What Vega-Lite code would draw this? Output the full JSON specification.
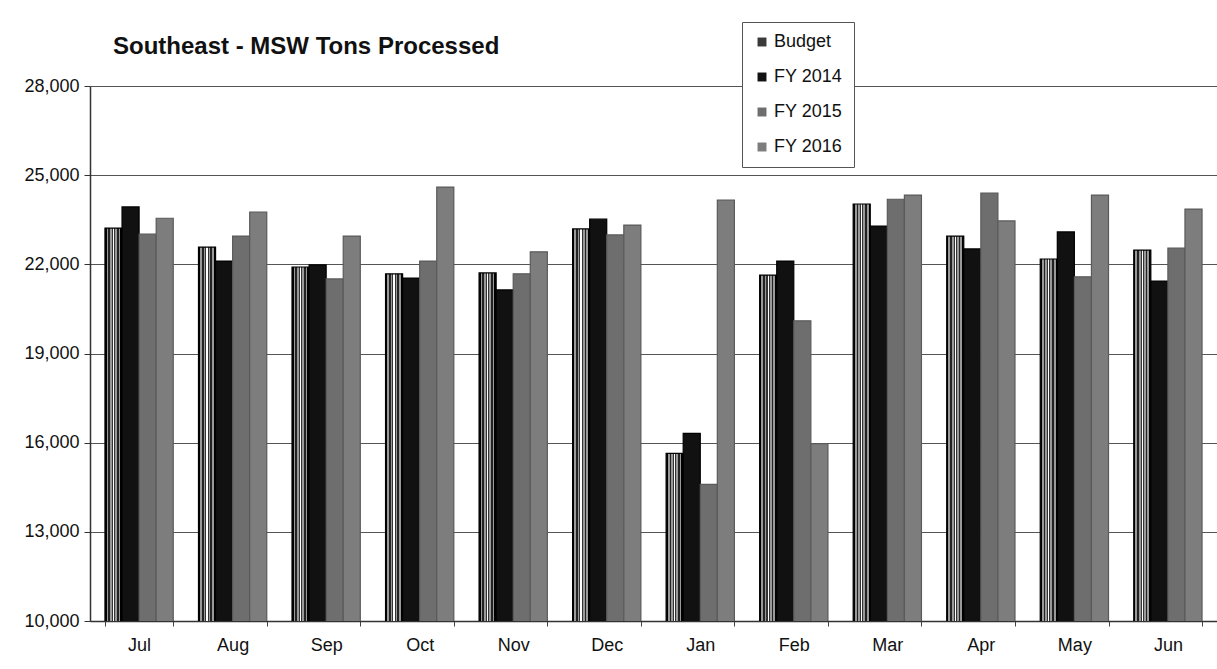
{
  "$schema": "https://vega.github.io/schema/vega-lite/v6.json",
  "autosize": "none",
  "width": 1127,
  "height": 535,
  "padding": {"left": 90, "top": 86, "right": 0, "bottom": 48},
  "background": "white",
  "title": {
    "text": "Southeast - MSW Tons Processed",
    "anchor": "start",
    "frame": "group",
    "dx": 23,
    "offset": 0,
    "dy": 37,
    "font": "Liberation Sans",
    "fontSize": 24,
    "fontWeight": "bold",
    "color": "#111"
  },
  "data": {
    "values": [
      {"month": "Jul", "series": "Budget", "tons": 23220},
      {"month": "Jul", "series": "FY 2014", "tons": 23930},
      {"month": "Jul", "series": "FY 2015", "tons": 23020},
      {"month": "Jul", "series": "FY 2016", "tons": 23550},
      {"month": "Aug", "series": "Budget", "tons": 22580},
      {"month": "Aug", "series": "FY 2014", "tons": 22110},
      {"month": "Aug", "series": "FY 2015", "tons": 22950},
      {"month": "Aug", "series": "FY 2016", "tons": 23760},
      {"month": "Sep", "series": "Budget", "tons": 21910},
      {"month": "Sep", "series": "FY 2014", "tons": 21980},
      {"month": "Sep", "series": "FY 2015", "tons": 21510},
      {"month": "Sep", "series": "FY 2016", "tons": 22950},
      {"month": "Oct", "series": "Budget", "tons": 21680},
      {"month": "Oct", "series": "FY 2014", "tons": 21540},
      {"month": "Oct", "series": "FY 2015", "tons": 22110},
      {"month": "Oct", "series": "FY 2016", "tons": 24600},
      {"month": "Nov", "series": "Budget", "tons": 21710},
      {"month": "Nov", "series": "FY 2014", "tons": 21140},
      {"month": "Nov", "series": "FY 2015", "tons": 21680},
      {"month": "Nov", "series": "FY 2016", "tons": 22420},
      {"month": "Dec", "series": "Budget", "tons": 23190},
      {"month": "Dec", "series": "FY 2014", "tons": 23520},
      {"month": "Dec", "series": "FY 2015", "tons": 22990},
      {"month": "Dec", "series": "FY 2016", "tons": 23320},
      {"month": "Jan", "series": "Budget", "tons": 15640},
      {"month": "Jan", "series": "FY 2014", "tons": 16310},
      {"month": "Jan", "series": "FY 2015", "tons": 14600},
      {"month": "Jan", "series": "FY 2016", "tons": 24160},
      {"month": "Feb", "series": "Budget", "tons": 21640},
      {"month": "Feb", "series": "FY 2014", "tons": 22110},
      {"month": "Feb", "series": "FY 2015", "tons": 20100},
      {"month": "Feb", "series": "FY 2016", "tons": 15970},
      {"month": "Mar", "series": "Budget", "tons": 24030},
      {"month": "Mar", "series": "FY 2014", "tons": 23290},
      {"month": "Mar", "series": "FY 2015", "tons": 24190},
      {"month": "Mar", "series": "FY 2016", "tons": 24330},
      {"month": "Apr", "series": "Budget", "tons": 22950},
      {"month": "Apr", "series": "FY 2014", "tons": 22520},
      {"month": "Apr", "series": "FY 2015", "tons": 24400},
      {"month": "Apr", "series": "FY 2016", "tons": 23460},
      {"month": "May", "series": "Budget", "tons": 22180},
      {"month": "May", "series": "FY 2014", "tons": 23090},
      {"month": "May", "series": "FY 2015", "tons": 21580},
      {"month": "May", "series": "FY 2016", "tons": 24330},
      {"month": "Jun", "series": "Budget", "tons": 22480},
      {"month": "Jun", "series": "FY 2014", "tons": 21440},
      {"month": "Jun", "series": "FY 2015", "tons": 22550},
      {"month": "Jun", "series": "FY 2016", "tons": 23860}
    ]
  },
  "mark": {"type": "bar", "strokeWidth": 1.2, "orient": "vertical", "clip": true},
  "encoding": {
    "x": {
      "field": "month",
      "type": "nominal",
      "sort": ["Jul", "Aug", "Sep", "Oct", "Nov", "Dec", "Jan", "Feb", "Mar", "Apr", "May", "Jun"],
      "scale": {"paddingInner": 0.27, "paddingOuter": 0.16},
      "axis": {
        "title": null,
        "labelAngle": 0,
        "labelFont": "Liberation Sans",
        "labelFontSize": 18,
        "labelColor": "#111",
        "labelPadding": 10,
        "ticks": true,
        "tickBand": "extent",
        "tickSize": 5,
        "tickColor": "#444",
        "domainColor": "#333",
        "domainWidth": 1.5,
        "grid": false
      }
    },
    "xOffset": {
      "field": "series",
      "type": "nominal",
      "sort": ["Budget", "FY 2014", "FY 2015", "FY 2016"],
      "scale": {"paddingInner": 0, "paddingOuter": 0}
    },
    "y": {
      "field": "tons",
      "type": "quantitative",
      "scale": {"domain": [10000, 28000], "nice": false, "zero": false},
      "axis": {
        "title": null,
        "values": [10000, 13000, 16000, 19000, 22000, 25000, 28000],
        "format": ",.0f",
        "labelFont": "Liberation Sans",
        "labelFontSize": 18,
        "labelColor": "#111",
        "labelPadding": 5,
        "tickSize": 6,
        "tickColor": "#333",
        "domainColor": "#333",
        "domainWidth": 1.5,
        "gridColor": "#555",
        "gridWidth": 1.2
      }
    },
    "color": {
      "condition": {
        "test": "datum.series === 'Budget'",
        "value": {
          "gradient": "linear",
          "x1": 0, "x2": 1, "y1": 0, "y2": 0,
          "stops": [
            {"offset": 0, "color": "#000"},
            {"offset": 0.1, "color": "#000"},
            {"offset": 0.1, "color": "#999"},
            {"offset": 0.2, "color": "#999"},
            {"offset": 0.2, "color": "#222"},
            {"offset": 0.3, "color": "#222"},
            {"offset": 0.3, "color": "#999"},
            {"offset": 0.4, "color": "#999"},
            {"offset": 0.4, "color": "#333"},
            {"offset": 0.46, "color": "#333"},
            {"offset": 0.46, "color": "#fff"},
            {"offset": 0.54, "color": "#fff"},
            {"offset": 0.54, "color": "#333"},
            {"offset": 0.6, "color": "#333"},
            {"offset": 0.6, "color": "#999"},
            {"offset": 0.7, "color": "#999"},
            {"offset": 0.7, "color": "#222"},
            {"offset": 0.8, "color": "#222"},
            {"offset": 0.8, "color": "#999"},
            {"offset": 0.9, "color": "#999"},
            {"offset": 0.9, "color": "#000"},
            {"offset": 1, "color": "#000"}
          ]
        }
      },
      "field": "series",
      "type": "nominal",
      "sort": ["Budget", "FY 2014", "FY 2015", "FY 2016"],
      "scale": {
        "domain": ["Budget", "FY 2014", "FY 2015", "FY 2016"],
        "range": ["#3a3a3a", "#111111", "#6e6e6e", "#7d7d7d"]
      },
      "legend": {
        "title": null,
        "orient": "none",
        "legendX": 652,
        "legendY": -64,
        "direction": "vertical",
        "symbolType": "square",
        "symbolSize": 80,
        "symbolStrokeWidth": 0,
        "labelFont": "Liberation Sans",
        "labelFontSize": 18,
        "labelColor": "#111",
        "labelOffset": 3,
        "rowPadding": 17,
        "padding": 11,
        "fillColor": "white",
        "strokeColor": "#555",
        "symbolOpacity": 1
      }
    },
    "stroke": {
      "condition": {"test": "datum.series === 'Budget' || datum.series === 'FY 2014'", "value": "#000"},
      "value": "#5a5a5a"
    }
  },
  "config": {
    "view": {"stroke": null},
    "font": "Liberation Sans"
  }
}
